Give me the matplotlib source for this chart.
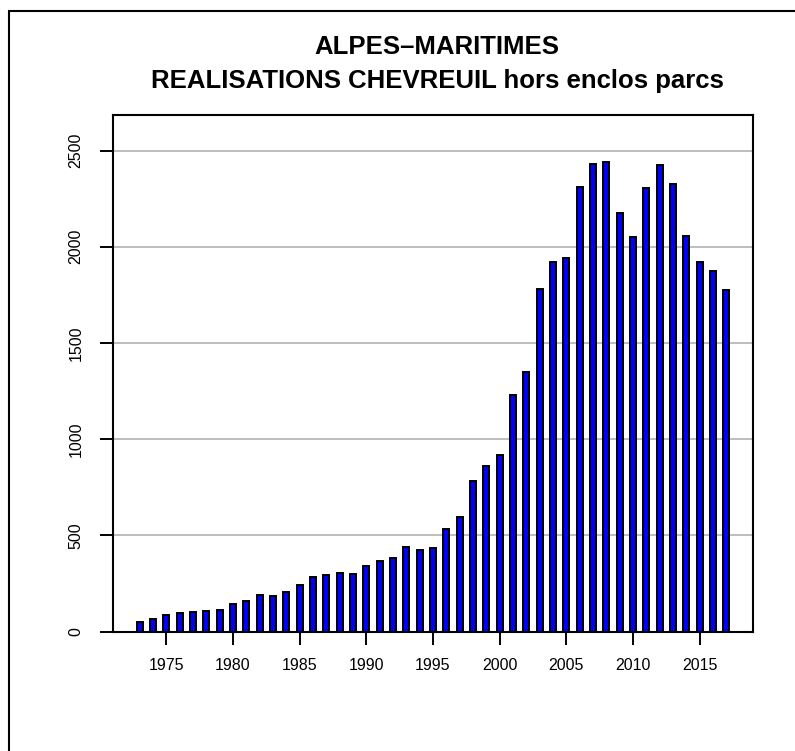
# Roe deer harvest (Alpes-Maritimes), R-style bar chart redone in matplotlib.
# out: out.png
import matplotlib

matplotlib.use("Agg")
import matplotlib.pyplot as plt
from matplotlib.patches import Rectangle

plt.rcParams["font.family"] = ["Liberation Sans", "DejaVu Sans"]

YEARS = list(range(1973, 2018))
HARVEST = [
    47, 65, 84, 94, 101, 108, 114, 145, 161, 190,
    185, 204, 243, 283, 293, 303, 297, 342, 368, 382,
    437, 424, 434, 531, 594, 781, 859, 920, 1229, 1351,
    1783, 1920, 1941, 2313, 2431, 2441, 2177, 2050, 2304, 2424,
    2328, 2057, 1919, 1875, 1776,
]
X_TICKS = list(range(1975, 2016, 5))
Y_TICKS = list(range(0, 2501, 500))
TITLE_1 = "ALPES\u2013MARITIMES"
TITLE_2 = "REALISATIONS CHEVREUIL hors enclos parcs"


def main():
    fig = plt.figure(figsize=(7.95, 7.51), dpi=100)
    ax = fig.add_axes([113 / 795, 1 - 631.5 / 751, 640 / 795, 516.5 / 751])

    for y in Y_TICKS[1:]:
        ax.axhline(y, color="#bebebe", lw=1.4, zorder=0)

    ax.bar(YEARS, HARVEST, width=0.45, color="#0000ff",
           edgecolor="black", linewidth=1.4, zorder=2)

    ax.set_xlim(1971, 2019)
    ax.set_ylim(0, max(HARVEST) * 1.1)
    ax.set_xticks(X_TICKS)
    ax.set_yticks(Y_TICKS)
    ax.set_yticklabels([str(v) for v in Y_TICKS], rotation=90, va="center")
    ax.tick_params(axis="both", direction="out", length=9.4, width=1.4,
                   labelsize=11.5)
    ax.tick_params(axis="x", pad=10)
    ax.tick_params(axis="y", pad=12)
    for sp in ax.spines.values():
        sp.set_linewidth(1.5)

    cx = 437 / 795
    fig.text(cx, 1 - 47 / 751, TITLE_1, ha="center", va="center",
             fontsize=18.5, fontweight="bold")
    fig.text(cx, 1 - 81 / 751, TITLE_2, ha="center", va="center",
             fontsize=18.5, fontweight="bold")

    # outer frame around the whole device region
    fig.patches.append(Rectangle((9 / 795, -0.1), 1.2, 1.1 - 11.5 / 751,
                                 transform=fig.transFigure, fill=False,
                                 edgecolor="black", lw=1.5))

    fig.savefig("out.png", dpi=100)
    plt.close(fig)


if __name__ == "__main__":
    main()
